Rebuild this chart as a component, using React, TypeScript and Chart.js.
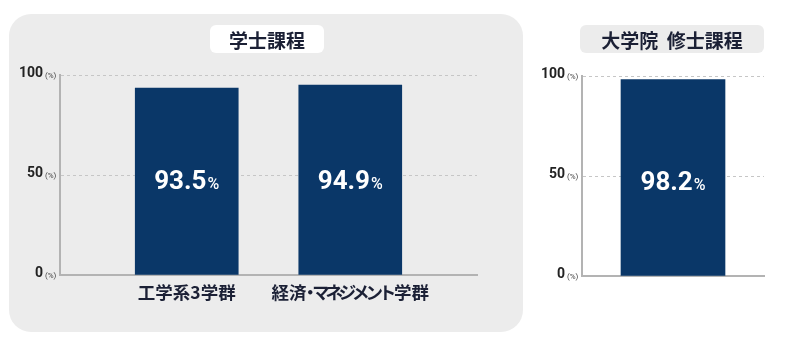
import React, { useEffect, useRef } from 'react';
import { Chart, registerables } from 'chart.js';

Chart.register(...registerables);

// ---- data ----
const undergradTitle = '学士課程';
const undergradCategories = ['工学系3学群', '経済・マネジメント学群'];
const undergradValues = [93.5, 94.9];

const gradTitle = '大学院 修士課程';
const gradCategories = ['大学院 修士課程'];
const gradValues = [98.2];

const yTicks = [0, 50, 100];
const yUnit = '(%)';
const valueUnit = '%';

// ---- styles ----
const NAVY = '#0a3768';
const TEXT = '#1b2035';
const AXIS = '#b3b3b3';
const GRID = '#c6c6c6';
const CJK = '"Noto Sans CJK JP", sans-serif';
const NUM = 'Roboto, "Liberation Sans", sans-serif';
const NARROW = '"Liberation Sans Narrow", Roboto, sans-serif';
const LABEL_LEVEL = 48; // value level where bar labels sit

const valueLabelPlugin = {
  id: 'valueLabels',
  afterDatasetsDraw(chart: any) {
    const { ctx } = chart;
    const ds = chart.data.datasets[0];
    const meta = chart.getDatasetMeta(0);
    const ys = chart.scales.y;
    meta.data.forEach((bar: any, i: number) => {
      const raw = ds.data[i];
      const v = typeof raw === 'object' ? raw.y : raw;
      const num = Number(v).toFixed(1);
      const x = bar.x;
      ctx.save();
      ctx.fillStyle = '#ffffff';
      ctx.textAlign = 'left';
      ctx.textBaseline = 'alphabetic';
      ctx.font = `bold 26px ${NUM}`;
      const w1 = ctx.measureText(num).width;
      ctx.font = `500 16px ${NUM}`;
      const w2 = ctx.measureText(valueUnit).width;
      const gap = 1;
      const start = x - (w1 + gap + w2) / 2;
      const baseline = ys.getPixelForValue(LABEL_LEVEL) + 9.5;
      ctx.font = `bold 26px ${NUM}`;
      ctx.fillText(num, start, baseline);
      ctx.font = `500 16px ${NUM}`;
      ctx.fillText(valueUnit, start + w1 + gap, baseline);
      ctx.restore();
    });
  },
};

const unitPlugin = {
  id: 'yUnit',
  afterDraw(chart: any) {
    const { ctx, chartArea } = chart;
    const ys = chart.scales.y;
    ctx.save();
    ctx.font = `8px ${NUM}`;
    ctx.fillStyle = '#444';
    ctx.textAlign = 'left';
    ctx.textBaseline = 'middle';
    yTicks.forEach((v) => {
      ctx.fillText(yUnit, chartArea.left - 15, ys.getPixelForValue(v) + 0.5);
    });
    ctx.restore();
  },
};

function drawProportional(ctx: CanvasRenderingContext2D, text: string, cx: number, cy: number) {
  const parts = [...text].map((ch) => {
    const w = ctx.measureText(ch).width;
    let adv = w;
    if (ch === '・') adv = w * 0.45;
    else if (/[\u30A0-\u30FF]/.test(ch)) adv = w * 0.76;
    return { ch, w, adv };
  });
  const total = parts.reduce((s, p) => s + p.adv, 0);
  let x = cx - total / 2;
  for (const p of parts) {
    ctx.fillText(p.ch, x + (p.adv - p.w) / 2, cy);
    x += p.adv;
  }
}

const xLabelPlugin = {
  id: 'xLabels',
  afterDraw(chart: any) {
    const labels: string[] | undefined = chart.options.plugins.xLabels?.labels;
    if (!labels) return;
    const { ctx, chartArea } = chart;
    const xs = chart.scales.x;
    ctx.save();
    ctx.font = `bold 17.5px ${CJK}`;
    ctx.fillStyle = TEXT;
    ctx.textAlign = 'left';
    ctx.textBaseline = 'middle';
    labels.forEach((lab, i) => {
      drawProportional(ctx, lab, xs.getPixelForValue(i), chartArea.bottom + 17.5);
    });
    ctx.restore();
  },
};

function yScale(width: number) {
  return {
    min: 0,
    max: 100,
    afterBuildTicks: (s: any) => {
      s.ticks = yTicks.map((v) => ({ value: v }));
    },
    ticks: {
      callback: (v: any) => String(v),
      color: '#222',
      font: { family: NARROW, size: 14, weight: 'bold' },
      padding: 17,
      labelOffset: -2,
    },
    grid: { color: GRID, lineWidth: 1, drawTicks: false },
    border: { display: true, color: AXIS, width: 2, dash: [3, 3] },
    afterFit: (s: any) => {
      s.width = width;
    },
  };
}

export default function App() {
  const leftRef = useRef<HTMLCanvasElement>(null);
  const rightRef = useRef<HTMLCanvasElement>(null);

  useEffect(() => {
    const left = new Chart(leftRef.current as HTMLCanvasElement, {
      type: 'bar',
      data: {
        datasets: [
          {
            data: undergradValues.map((v, i) => ({ x: i, y: v })) as any,
            backgroundColor: NAVY,
            barThickness: 103,
          },
        ],
      },
      options: {
        animation: false,
        responsive: false,
        maintainAspectRatio: false,
        layout: { padding: { left: 0, right: 46, top: 61, bottom: 57 } },
        plugins: {
          legend: { display: false },
          tooltip: { enabled: false },
          xLabels: { labels: undergradCategories },
        } as any,
        scales: {
          x: {
            type: 'linear',
            offset: false,
            min: -0.775,
            max: 1.775,
            grid: { display: false },
            border: { display: true, color: AXIS, width: 2 },
            ticks: { display: false },
            afterFit: (s: any) => {
              s.height = 0;
            },
          } as any,
          y: yScale(51) as any,
        },
      },
      plugins: [valueLabelPlugin, unitPlugin, xLabelPlugin],
    });

    const right = new Chart(rightRef.current as HTMLCanvasElement, {
      type: 'bar',
      data: {
        labels: gradCategories,
        datasets: [
          {
            data: gradValues,
            backgroundColor: NAVY,
            barThickness: 104,
          },
        ],
      },
      options: {
        animation: false,
        responsive: false,
        maintainAspectRatio: false,
        layout: { padding: { left: 0, right: 36, top: 62, bottom: 56 } },
        plugins: {
          legend: { display: false },
          tooltip: { enabled: false },
        },
        scales: {
          x: {
            grid: { display: false },
            border: { display: true, color: AXIS, width: 2 },
            ticks: { display: false },
            afterFit: (s: any) => {
              s.height = 0;
            },
          } as any,
          y: yScale(52) as any,
        },
      },
      plugins: [valueLabelPlugin, unitPlugin],
    });

    return () => {
      left.destroy();
      right.destroy();
    };
  }, []);

  const titleStyle: React.CSSProperties = {
    position: 'absolute',
    top: 25,
    height: 28,
    borderRadius: 6,
    display: 'flex',
    alignItems: 'center',
    justifyContent: 'center',
    fontFamily: CJK,
    fontWeight: 'bold',
    fontSize: 19,
    lineHeight: 1,
    color: TEXT,
    whiteSpace: 'pre',
    wordSpacing: 4,
  };

  return (
    <div
      style={{
        position: 'fixed',
        left: 0,
        top: 0,
        width: 800,
        height: 348,
        background: '#ffffff',
        overflow: 'hidden',
      }}
    >
      <div
        style={{
          position: 'absolute',
          left: 9,
          top: 14,
          width: 514,
          height: 318,
          background: '#ececec',
          borderRadius: 22,
        }}
      />
      <canvas ref={leftRef} width={514} height={318} style={{ position: 'absolute', left: 9, top: 14 }} />
      <div style={{ ...titleStyle, left: 210, width: 114, background: '#ffffff' }}>{undergradTitle}</div>
      <canvas ref={rightRef} width={270} height={318} style={{ position: 'absolute', left: 530, top: 14 }} />
      <div style={{ ...titleStyle, left: 580, width: 184, background: '#ececec' }}>{gradTitle}</div>
    </div>
  );
}
